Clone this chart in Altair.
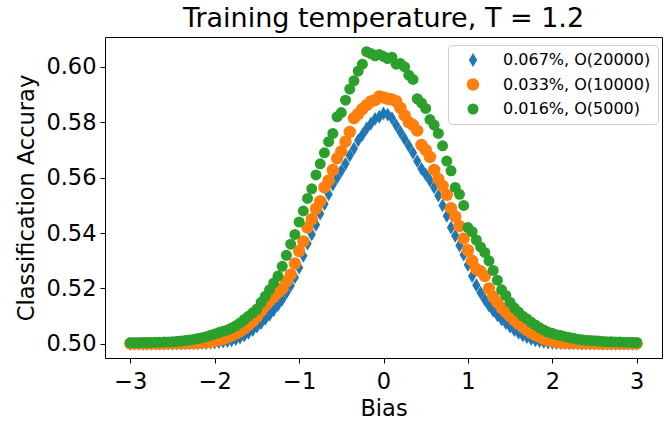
import altair as alt
import pandas as pd

# x grid (Bias), step 0.05 from -3 to 3
bias = [round(-3 + 0.05 * i, 2) for i in range(121)]

series = ["0.067%, O(20000)", "0.033%, O(10000)", "0.016%, O(5000)"]

acc_067 = [
    0.5000, 0.5000, 0.5000, 0.5000, 0.5000, 0.5001, 0.5001, 0.5001, 0.5001, 0.5001,
    0.5001, 0.5001, 0.5001, 0.5002, 0.5002, 0.5002, 0.5002, 0.5003, 0.5003, 0.5004,
    0.5005, 0.5006, 0.5008, 0.5010, 0.5013, 0.5017, 0.5023, 0.5030, 0.5040, 0.5050,
    0.5062, 0.5075, 0.5090, 0.5105, 0.5122, 0.5140, 0.5160, 0.5185, 0.5210, 0.5240,
    0.5275, 0.5318, 0.5362, 0.5395, 0.5430, 0.5470, 0.5505, 0.5540, 0.5575, 0.5600,
    0.5625, 0.5650, 0.5680, 0.5705, 0.5735, 0.5755, 0.5778, 0.5795, 0.5812, 0.5820,
    0.5832,
    0.5828, 0.5815, 0.5790, 0.5765, 0.5740, 0.5715, 0.5690, 0.5660, 0.5632, 0.5612,
    0.5590, 0.5565, 0.5535, 0.5500, 0.5462, 0.5420, 0.5390, 0.5355, 0.5322, 0.5285,
    0.5245, 0.5212, 0.5185, 0.5160, 0.5138, 0.5120, 0.5103, 0.5088, 0.5075, 0.5062,
    0.5050, 0.5040, 0.5031, 0.5024, 0.5018, 0.5013, 0.5010, 0.5007, 0.5005, 0.5004,
    0.5003, 0.5003, 0.5002, 0.5002, 0.5002, 0.5001, 0.5001, 0.5001, 0.5001, 0.5001,
    0.5001, 0.5000, 0.5000, 0.5000, 0.5000, 0.5000, 0.5000, 0.5000, 0.5000, 0.5000,
]

acc_033 = [
    0.5001, 0.5001, 0.5001, 0.5001, 0.5001, 0.5001, 0.5001, 0.5001, 0.5001, 0.5002,
    0.5002, 0.5002, 0.5002, 0.5003, 0.5003, 0.5003, 0.5004, 0.5005, 0.5006, 0.5007,
    0.5010, 0.5014, 0.5018, 0.5024, 0.5030, 0.5037, 0.5045, 0.5056, 0.5068, 0.5082,
    0.5098, 0.5118, 0.5138, 0.5155, 0.5170, 0.5185, 0.5200, 0.5225, 0.5250, 0.5290,
    0.5335, 0.5370, 0.5420, 0.5450, 0.5488, 0.5515, 0.5565, 0.5590, 0.5628, 0.5670,
    0.5695, 0.5730, 0.5765, 0.5815, 0.5830, 0.5848, 0.5862, 0.5875, 0.5880, 0.5893,
    0.5890,
    0.5885, 0.5882, 0.5876, 0.5852, 0.5825, 0.5800, 0.5790, 0.5770, 0.5718, 0.5700,
    0.5675, 0.5628, 0.5595, 0.5570, 0.5538, 0.5490, 0.5460, 0.5425, 0.5380, 0.5338,
    0.5300, 0.5270, 0.5262, 0.5245, 0.5200, 0.5170, 0.5150, 0.5130, 0.5115, 0.5100,
    0.5085, 0.5072, 0.5061, 0.5050, 0.5040, 0.5032, 0.5025, 0.5018, 0.5013, 0.5009,
    0.5007, 0.5005, 0.5004, 0.5004, 0.5003, 0.5003, 0.5002, 0.5002, 0.5002, 0.5002,
    0.5001, 0.5001, 0.5001, 0.5001, 0.5001, 0.5001, 0.5001, 0.5001, 0.5001, 0.5001,
]

acc_016 = [
    0.5004, 0.5004, 0.5004, 0.5005, 0.5005, 0.5005, 0.5006, 0.5006, 0.5007, 0.5007,
    0.5008, 0.5009, 0.5010, 0.5012, 0.5014, 0.5016, 0.5019, 0.5022, 0.5026, 0.5031,
    0.5036, 0.5041, 0.5046, 0.5050, 0.5057, 0.5065, 0.5075, 0.5088, 0.5100, 0.5112,
    0.5125, 0.5150, 0.5172, 0.5195, 0.5220, 0.5245, 0.5280, 0.5320, 0.5360, 0.5395,
    0.5440, 0.5480, 0.5525, 0.5560, 0.5610, 0.5650, 0.5690, 0.5730, 0.5760, 0.5820,
    0.5835, 0.5880, 0.5920, 0.5950, 0.5985, 0.6010, 0.6055, 0.6048, 0.6040, 0.6045,
    0.6038,
    0.6030, 0.6035, 0.6010, 0.6012, 0.6000, 0.5970, 0.5955, 0.5885, 0.5870, 0.5850,
    0.5810, 0.5790, 0.5760, 0.5715, 0.5660, 0.5625, 0.5565, 0.5540, 0.5500, 0.5420,
    0.5405, 0.5375, 0.5350, 0.5330, 0.5300, 0.5265, 0.5230, 0.5195, 0.5175, 0.5150,
    0.5130, 0.5115, 0.5100, 0.5090, 0.5078, 0.5068, 0.5058, 0.5050, 0.5042, 0.5038,
    0.5033, 0.5030, 0.5026, 0.5023, 0.5020, 0.5017, 0.5015, 0.5013, 0.5012, 0.5011,
    0.5010, 0.5009, 0.5008, 0.5008, 0.5007, 0.5007, 0.5006, 0.5006, 0.5005, 0.5005,
]

x_ticks = [-3, -2, -1, 0, 1, 2, 3]
y_ticks = [0.50, 0.52, 0.54, 0.56, 0.58, 0.60]

colors = ["#1f77b4", "#ff7f0e", "#2ca02c"]
shapes = ["M0,-1L0.6,0L0,1L-0.6,0Z", "circle", "circle"]
sizes = [190, 121, 121]

rows = []
for name, vals in zip(series, [acc_067, acc_033, acc_016]):
    for b, v in zip(bias, vals):
        rows.append({"Bias": b, "acc": v, "series": name})
df = pd.DataFrame(rows)

FONT = "DejaVu Sans"
legend = alt.Legend(
    title=None, orient="none", legendX=343, legendY=8,
    fillColor="rgba(255,255,255,0.8)", strokeColor="#cccccc", cornerRadius=4,
    padding=7, symbolOffset=10, labelOffset=22, rowPadding=8.5,
    labelFontSize=16, labelFont=FONT, labelColor="black", labelLimit=0,
    symbolStrokeWidth=0, symbolOpacity=1,
)

chart = alt.Chart(df).mark_point(filled=True, opacity=1, strokeWidth=0).encode(
    x=alt.X("Bias:Q",
            scale=alt.Scale(domain=[-3.3, 3.3], nice=False, zero=False),
            axis=alt.Axis(values=x_ticks, format="d", title="Bias",
                          labelExpr="replace(datum.label, '-', '\u2212')",
                          labelBaseline="alphabetic", labelPadding=25,
                          titleY=57, titleBaseline="alphabetic")),
    y=alt.Y("acc:Q",
            scale=alt.Scale(domain=[0.4949, 0.6108], nice=False, zero=False),
            axis=alt.Axis(values=y_ticks, format=".2f", title="Classification Accuray",
                          labelPadding=4, titleX=-72, titleY=160.5, titleAngle=270,
                          titleBaseline="alphabetic", titleAlign="center")),
    color=alt.Color("series:N", scale=alt.Scale(domain=series, range=colors), legend=legend),
    shape=alt.Shape("series:N", scale=alt.Scale(domain=series, range=shapes), legend=legend),
    size=alt.Size("series:N", scale=alt.Scale(domain=series, range=sizes), legend=legend),
).properties(
    width=557, height=321,
    title=alt.TitleParams("Training temperature, T = 1.2", fontSize=27, font=FONT,
                          fontWeight="normal", color="black", offset=10,
                          baseline="alphabetic", dy=27),
    autosize=alt.AutoSizeParams(type="none"),
    padding={"left": 105, "top": 37, "right": 8, "bottom": 65},
).configure_view(
    stroke="black", strokeWidth=1
).configure_axis(
    domain=False, grid=False, ticks=True, tickColor="black", tickSize=5, tickWidth=1,
    labelFont=FONT, labelFontSize=22.5, labelColor="black",
    titleFont=FONT, titleFontSize=22.5, titleColor="black", titleFontWeight="normal",
)

chart.save("out.html", embed_options={"renderer": "svg", "actions": False})
